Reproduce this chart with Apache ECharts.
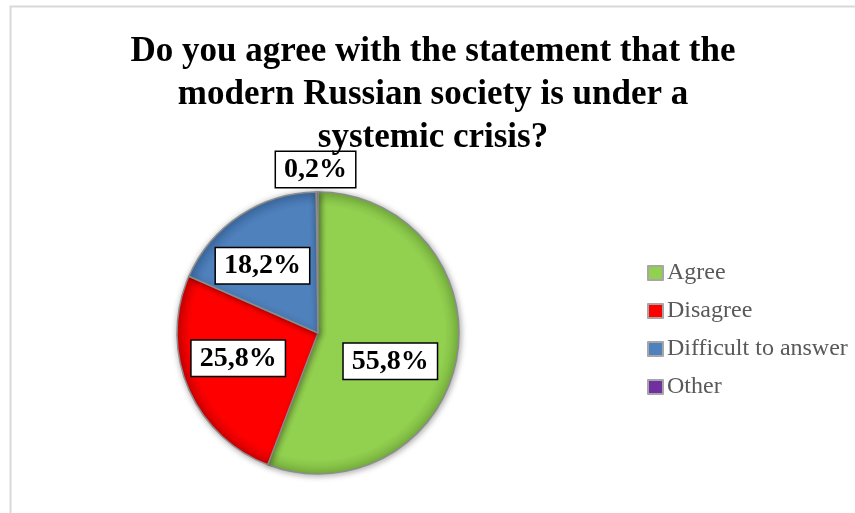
<!DOCTYPE html>
<html>
<head>
<meta charset="utf-8">
<script src="https://cdn.jsdelivr.net/npm/echarts@6/dist/echarts.min.js"></script>
<style>
  html, body { margin: 0; padding: 0; background: #ffffff; }
  #chart { width: 855px; height: 513px; }
</style>
</head>
<body>
<div id="chart"></div>
<script>
// Survey answers, share of respondents (%)
const categories = ['Agree', 'Disagree', 'Difficult to answer', 'Other'];
const shares = [55.8, 25.8, 18.2, 0.2];
const labelTexts = ['55,8%', '25,8%', '18,2%', '0,2%'];
const sliceColors = ['#92d050', '#ff0000', '#4f81bd', '#7030a0'];
const edgeColors = ['#79b43f', '#d40000', '#3f6ea6', '#5a2682'];
// nudges for the boxed value labels, relative to their inside anchor
const labelShift = [[0, 15], [-12, -3], [-15, -6], [-2, -90]];

const pieCenter = [318, 333];
const pieRadius = 141;

const chart = echarts.init(document.getElementById('chart'));

// bevel-like shading: flat colour that darkens toward the rim
function sliceFill(i) {
  return {
    type: 'radial', x: pieCenter[0], y: pieCenter[1], r: pieRadius, global: true,
    colorStops: [
      { offset: 0, color: sliceColors[i] },
      { offset: 0.9, color: sliceColors[i] },
      { offset: 1, color: edgeColors[i] }
    ]
  };
}

const pieData = categories.map((name, i) => ({
  name: name,
  value: shares[i],
  itemStyle: { color: sliceFill(i) },
  label: { formatter: labelTexts[i] }
}));

chart.setOption({
  backgroundColor: '#ffffff',
  animation: false,
  title: {
    text: 'Do you agree with the statement that the\nmodern Russian society is under a\nsystemic crisis?',
    left: 428,
    top: 25,
    textAlign: 'center',
    textStyle: {
      fontFamily: 'Liberation Serif',
      fontWeight: 'bold',
      fontSize: 35,
      lineHeight: 43,
      color: '#000000'
    }
  },
  legend: {
    orient: 'vertical',
    left: 642,
    top: 256,
    itemGap: 14,
    itemWidth: 15,
    itemHeight: 14,
    icon: 'rect',
    data: categories.map((name, i) => ({
      name: name,
      itemStyle: { color: sliceColors[i], borderColor: '#a6a6a6', borderWidth: 2 }
    })),
    textStyle: {
      fontFamily: 'Liberation Serif',
      fontSize: 24,
      color: '#595959',
      padding: [0, 0, 0, -1]
    }
  },
  graphic: [{
    type: 'rect',
    shape: { x: 10.5, y: 6.5, width: 900, height: 600 },
    style: { fill: 'none', stroke: '#d9d9d9', lineWidth: 2 },
    silent: true
  }],
  series: [{
    type: 'pie',
    center: pieCenter,
    radius: [0, pieRadius],
    startAngle: 90,
    clockwise: true,
    data: pieData,
    itemStyle: {
      borderColor: '#8c8c8c',
      borderWidth: 1.5,
      shadowColor: 'rgba(0,0,0,0.35)',
      shadowBlur: 6,
      shadowOffsetX: 1,
      shadowOffsetY: 1
    },
    label: {
      show: true,
      position: 'inside',
      fontFamily: 'Liberation Serif',
      fontWeight: 'bold',
      fontSize: 28,
      color: '#000000',
      backgroundColor: '#ffffff',
      borderColor: '#000000',
      borderWidth: 1.5,
      padding: [5, 8, 2, 8]
    },
    labelLine: { show: false },
    labelLayout: function (params) {
      const s = labelShift[params.dataIndex];
      return { dx: s[0], dy: s[1] };
    },
    emphasis: { disabled: true }
  }]
});
</script>
</body>
</html>
